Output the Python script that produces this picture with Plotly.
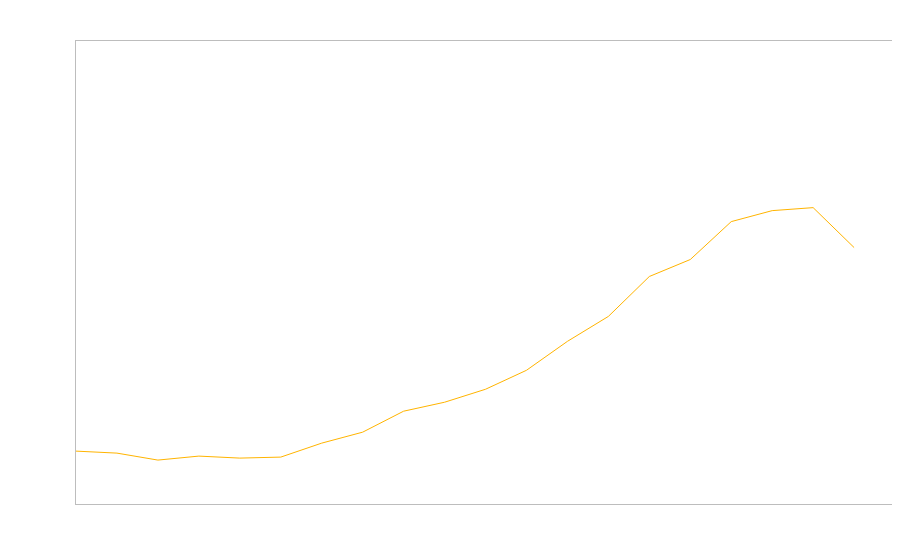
import plotly.graph_objects as go

x_index = list(range(20))
values = [53, 51, 44, 48, 46, 47, 61, 72, 93, 102, 115, 134, 163, 188, 228, 245, 283, 294, 297, 257]

fig = go.Figure()
fig.add_trace(go.Scatter(x=x_index, y=values, mode="lines",
                         line=dict(color="#FFB400", width=1), showlegend=False,
                         hoverinfo="skip"))
axis_common = dict(showgrid=False, zeroline=False, showticklabels=False, ticks="",
                   showline=True, mirror=True, linecolor="#bdbdbd", linewidth=1)
fig.update_xaxes(range=[0, 19.95], **axis_common)
fig.update_yaxes(range=[0, 464], **axis_common)
fig.update_layout(width=892, height=552, margin=dict(l=68, r=7, t=33, b=56),
                  paper_bgcolor="white", plot_bgcolor="white")
fig.write_html("out.html")
